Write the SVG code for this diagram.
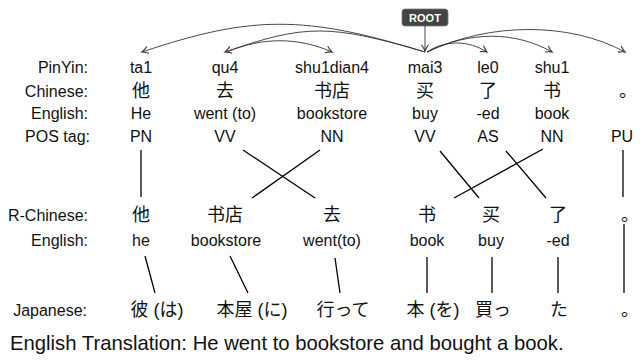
<svg xmlns="http://www.w3.org/2000/svg" width="644" height="362" viewBox="0 0 644 362">
<style>
text{font-family:"Liberation Sans","Noto Sans CJK SC",sans-serif;font-size:16px;fill:#111;}
.lab{text-anchor:end;}
.c{text-anchor:middle;}
.zh{font-family:"Liberation Sans","Noto Sans CJK SC",sans-serif;font-size:18px;}
.ja{font-family:"Liberation Sans","Noto Sans CJK JP",sans-serif;font-size:18px;}
.arc{fill:none;stroke:#333;stroke-width:0.9;marker-end:url(#ah);}
.ln{stroke:#000;stroke-width:1.3;fill:none;}
.tr{font-size:20.3px;}
.root{font-family:"Liberation Sans",sans-serif;font-size:11px;font-weight:bold;fill:#fff;text-anchor:middle;}
</style>
<defs>
<marker id="ah" markerUnits="userSpaceOnUse" markerWidth="10" markerHeight="10" viewBox="-6 -4 8 8" refX="0" refY="0" orient="auto">
<path d="M-5,-2.8 Q-2,-0.6 0,0 Q-2,0.6 -5,2.8" fill="none" stroke="#333" stroke-width="0.9"/>
</marker>
</defs>
<g id="labels">
<text class="lab" x="88" y="73">PinYin:</text>
<text class="lab" x="88" y="97">Chinese:</text>
<text class="lab" x="88" y="119">English:</text>
<text class="lab" x="90" y="142">POS tag:</text>
<text class="lab" x="88" y="221">R-Chinese:</text>
<text class="lab" x="88" y="246">English:</text>
<text class="lab" x="87" y="316">Japanese:</text>
</g>
<g id="root">
<rect x="402" y="9" width="46" height="17" rx="3" fill="#444" stroke="#777" stroke-width="0.8"/>
<text class="root" x="425" y="21.5">ROOT</text>
</g>
<g id="w1"><text class="c" x="141" y="73">ta1</text><text class="c zh" x="141" y="97">他</text><text class="c" x="141" y="119">He</text><text class="c" x="141" y="142">PN</text></g>
<g id="w2"><text class="c" x="225" y="73">qu4</text><text class="c zh" x="225" y="97">去</text><text class="c" x="225" y="119">went (to)</text><text class="c" x="225" y="142">VV</text></g>
<g id="w3"><text class="c" x="332" y="73">shu1dian4</text><text class="c zh" x="332" y="97">书店</text><text class="c" x="332" y="119">bookstore</text><text class="c" x="332" y="142">NN</text></g>
<g id="w4"><text class="c" x="425" y="73">mai3</text><text class="c zh" x="425" y="97">买</text><text class="c" x="425" y="119">buy</text><text class="c" x="425" y="142">VV</text></g>
<g id="w5"><text class="c" x="488" y="73">le0</text><text class="c zh" x="488" y="97">了</text><text class="c" x="488" y="119">-ed</text><text class="c" x="488" y="142">AS</text></g>
<g id="w6"><text class="c" x="552" y="73">shu1</text><text class="c zh" x="552" y="97">书</text><text class="c" x="552" y="119">book</text><text class="c" x="552" y="142">NN</text></g>
<g id="w7"><text class="zh" x="619" y="97">。</text><text class="c" x="622" y="142">PU</text></g>
<g id="r1"><text class="c zh" x="141" y="221">他</text><text class="c" x="141" y="246">he</text></g>
<g id="r2"><text class="c zh" x="225" y="221">书店</text><text class="c" x="226" y="246">bookstore</text></g>
<g id="r3"><text class="c zh" x="332" y="221">去</text><text class="c" x="332" y="246">went(to)</text></g>
<g id="r4"><text class="c zh" x="427" y="221">书</text><text class="c" x="427" y="246">book</text></g>
<g id="r5"><text class="c zh" x="491" y="221">买</text><text class="c" x="491" y="246">buy</text></g>
<g id="r6"><text class="c zh" x="558" y="221">了</text><text class="c" x="558" y="246">-ed</text></g>
<g id="r7"><text class="zh" x="621" y="221">。</text></g>
<g id="j1"><text class="c ja" x="157" y="316">彼 (は)</text></g>
<g id="j2"><text class="c ja" x="252" y="316">本屋 (に)</text></g>
<g id="j3"><text class="c ja" x="343" y="316">行って</text></g>
<g id="j4"><text class="c ja" x="433" y="316">本 (を)</text></g>
<g id="j5"><text class="c ja" x="493" y="316">買っ</text></g>
<g id="j6"><text class="c ja" x="559" y="316">た</text></g>
<g id="j7"><text class="ja" x="621" y="316">。</text></g>
<g id="connectors">
<path class="arc" d="M425,26 L425,51"/>
<path class="arc" d="M425,52 C305,15 252,15 142,52"/>
<path class="arc" d="M425,52 C330,24 305,24 225,52"/>
<path class="arc" d="M227,52 C262,37 298,37 332,52"/>
<path class="arc" d="M427,52 C445,40 468,40 487,52"/>
<path class="arc" d="M427,52 C470,31 515,31 552,52"/>
<path class="arc" d="M427,52 C490,22 570,22 625,52"/>
<line class="ln" x1="141" y1="150" x2="141" y2="197"/>
<line class="ln" x1="243" y1="150" x2="315" y2="198"/>
<line class="ln" x1="320" y1="150" x2="252" y2="198"/>
<line class="ln" x1="440" y1="151" x2="479" y2="198"/>
<line class="ln" x1="506" y1="151" x2="546" y2="198"/>
<line class="ln" x1="543" y1="149" x2="454" y2="198"/>
<line class="ln" x1="623" y1="150" x2="623" y2="197"/>
<line class="ln" x1="145" y1="256" x2="155" y2="293"/>
<line class="ln" x1="230" y1="256" x2="248" y2="293"/>
<line class="ln" x1="335" y1="258" x2="340" y2="293"/>
<line class="ln" x1="427" y1="257" x2="427" y2="293"/>
<line class="ln" x1="492" y1="257" x2="492" y2="293"/>
<line class="ln" x1="558" y1="257" x2="558" y2="293"/>
<line class="ln" x1="624" y1="224" x2="624" y2="293"/>
</g>
<text class="tr" x="10" y="350">English Translation: He went to bookstore and bought a book.</text>
</svg>
